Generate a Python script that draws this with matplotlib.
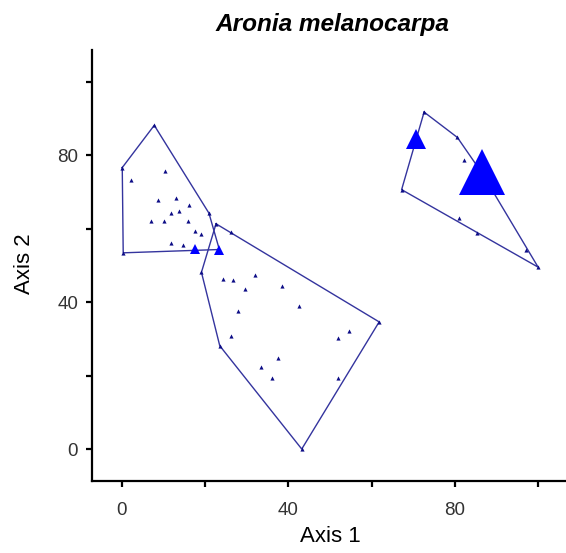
import matplotlib
matplotlib.use("Agg")
import matplotlib.pyplot as plt

plt.rcParams['font.family'] = ['Liberation Sans', 'DejaVu Sans']

# group 1 (left)
g1_x = [0.07, 7.76, 20.9, 23.4, 0.3, 2.1, 10.3, 8.7, 12.9, 16.2, 11.9, 13.8,
        7.0, 10.2, 15.8, 17.6, 19.1, 11.9, 14.7, 17.6]
g1_y = [76.6, 88.1, 64.2, 54.3, 53.4, 73.3, 75.7, 67.8, 68.3, 66.3, 64.3, 64.7,
        62.0, 62.0, 62.0, 59.3, 58.5, 56.2, 55.6, 54.5]
g1_hull_x = [0.07, 7.76, 20.9, 23.4, 0.3, 0.07]
g1_hull_y = [76.6, 88.1, 64.2, 54.3, 53.4, 76.6]

# group 2 (middle)
g2_x = [22.6, 61.8, 43.2, 23.5, 19.1, 26.3, 32.0, 24.2, 26.6, 29.5, 38.4,
        42.6, 27.8, 26.2, 51.8, 54.5, 37.6, 33.4, 36.0, 51.8]
g2_y = [61.3, 34.6, 0.0, 28.1, 48.1, 59.0, 47.5, 46.2, 45.9, 43.5, 44.3,
        38.8, 37.5, 30.8, 30.1, 32.1, 24.7, 22.4, 19.4, 19.4]
g2_hull_x = [22.6, 61.8, 43.2, 23.5, 19.1, 22.6]
g2_hull_y = [61.3, 34.6, 0.0, 28.1, 48.1, 61.3]

# group 3 (right)
g3_x = [72.6, 80.6, 86.4, 100.0, 67.2, 82.3, 81.0, 85.2, 97.1]
g3_y = [91.7, 84.8, 75.3, 49.5, 70.6, 78.7, 62.8, 58.8, 54.2]
g3_hull_x = [72.6, 80.6, 86.4, 100.0, 67.2, 72.6]
g3_hull_y = [91.7, 84.8, 75.3, 49.5, 70.6, 91.7]

# larger symbols (size = weight)
big_x = [17.6, 23.4, 70.6, 86.4]
big_y = [54.5, 54.3, 84.3, 75.3]
big_size = [6.5, 6.5, 14.5, 32.5]

fig = plt.figure(figsize=(5.66, 5.53), dpi=100)
ax = fig.add_axes([92 / 566, 72 / 553, 1 - 92 / 566, (481 - 50) / 553])

line_col = '#34349e'
for hx, hy in [(g1_hull_x, g1_hull_y), (g2_hull_x, g2_hull_y), (g3_hull_x, g3_hull_y)]:
    ax.plot(hx, hy, color=line_col, lw=1.0, zorder=2)

for gx, gy in [(g1_x, g1_y), (g2_x, g2_y), (g3_x, g3_y)]:
    ax.plot(gx, gy, ls='none', marker='^', ms=3.0, color='#0c0c86', mew=0, zorder=3)

for bx, by, bs in zip(big_x, big_y, big_size):
    ax.plot(bx, by, ls='none', marker='^', ms=bs, color='#0000ff', mew=0, zorder=4)

ax.set_xlim(-7.2, 106.7)
ax.set_ylim(-8.7, 108.6)

ticks = [0, 20, 40, 60, 80, 100]
labels = ['0', '', '40', '', '80', '']
ax.set_xticks(ticks)
ax.set_xticklabels(labels)
ax.set_yticks(ticks)
ax.set_yticklabels(labels)

ax.spines['top'].set_visible(False)
ax.spines['right'].set_visible(False)
ax.spines['left'].set_linewidth(1.6)
ax.spines['bottom'].set_linewidth(1.6)
ax.tick_params(axis='both', direction='out', length=4, width=1.6, labelsize=13.5,
               labelcolor='#333333')
ax.tick_params(axis='x', pad=11)
ax.tick_params(axis='y', pad=6)

fig.text(332 / 566, 1 - 24 / 553, 'Aronia melanocarpa', ha='center', va='center',
         fontsize=17.6, fontweight='bold', fontstyle='italic')
fig.text(330 / 566, 1 - 536 / 553, 'Axis 1', ha='center', va='center', fontsize=16)
fig.text(25 / 566, 1 - 264 / 553, 'Axis 2', ha='center', va='center', fontsize=16,
         rotation=90)

fig.savefig('out.png', dpi=100)
